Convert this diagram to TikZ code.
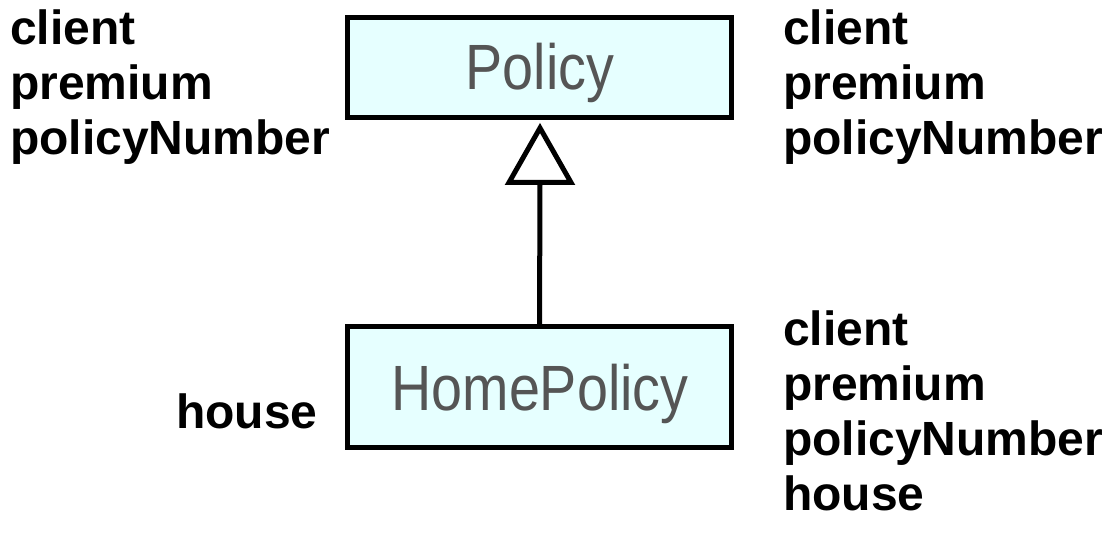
\documentclass[tikz,border=0pt]{standalone}
\usepackage{fontspec}
\setmainfont{Liberation Sans}
\newfontfamily\thinfont[FakeStretch=0.87]{Liberation Sans}
\definecolor{boxfill}{RGB}{230,255,255}
\definecolor{thintext}{RGB}{85,85,85}
\begin{document}
\begin{tikzpicture}[x=1pt,y=-1pt,
  umlbox/.style={draw=black, line width=5pt, fill=boxfill, inner sep=0pt},
  lbl/.style={anchor=base west, inner sep=0pt, font=\fontsize{48}{55}\selectfont\bfseries},
  cls/.style={anchor=base, inner sep=0pt, font=\fontsize{64}{70}\thinfont, text=thintext},
  conn/.style={line width=5pt}]
\useasboundingbox (0,0) rectangle (1107,537);
\node[umlbox, minimum width=384pt, minimum height=100pt] (policy) at (539.5,67.5) {};
\node[umlbox, minimum width=384pt, minimum height=121pt] (home) at (539.5,387) {};
\node[cls] (policyt) at (540,90) {Policy};
\node[cls] (homet) at (540,410) {HomePolicy};
% generalisation arrow
\coordinate (apex) at (540,128);
\coordinate (bl) at (509,182.5);
\coordinate (br) at (571,182.5);
\coordinate (bm) at (540,182.5);
\draw[conn, line join=miter] (apex) -- (br) -- (bl) -- cycle;
\draw[conn] (home.north) -- (bm);
% left labels
\node[lbl] (l1) at (10,45) {client};
\node[lbl] (l2) at (10,100) {premium};
\node[lbl] (l3) at (10,155) {policyNumber};
\node[lbl] (l4) at (176,428) {house};
% right labels top
\node[lbl] (r1) at (783,45) {client};
\node[lbl] (r2) at (783,100) {premium};
\node[lbl] (r3) at (783,155) {policyNumber};
% right labels bottom
\node[lbl] (s1) at (783,345) {client};
\node[lbl] (s2) at (783,400) {premium};
\node[lbl] (s3) at (783,455) {policyNumber};
\node[lbl] (s4) at (783,510) {house};
\end{tikzpicture}
\end{document}
